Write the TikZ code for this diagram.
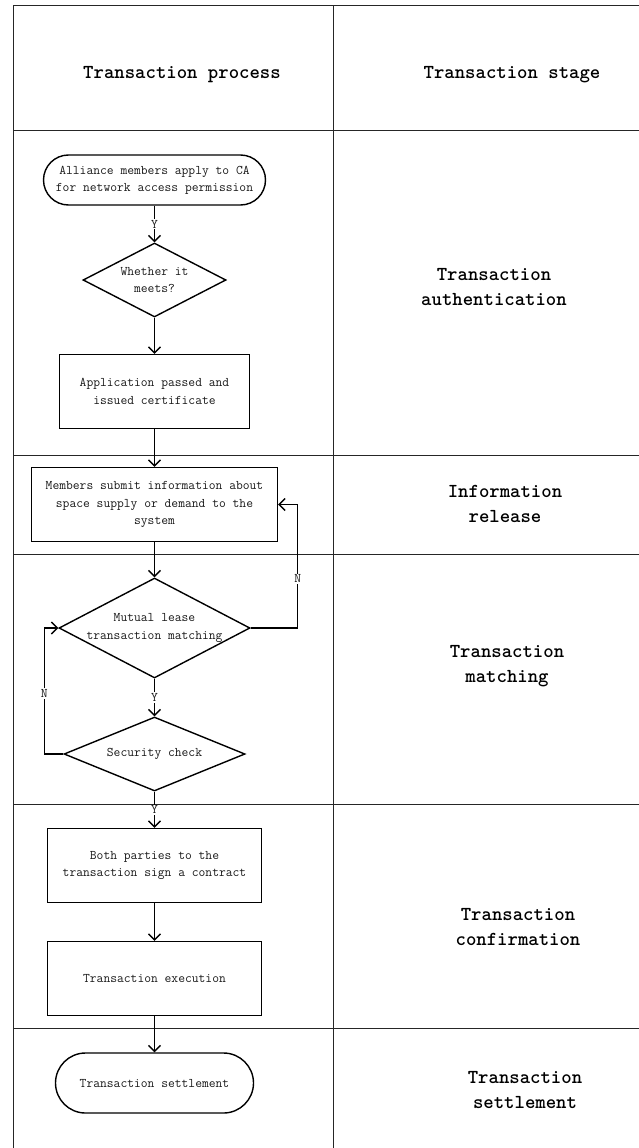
\documentclass[tikz,border=0pt]{standalone}
\usetikzlibrary{shapes.geometric,arrows.meta}
\begin{document}
\begin{tikzpicture}[x=1pt,y=-1pt,
  frame/.style={line width=1.4pt,black!85},
  body/.style={font=\ttfamily\fontsize{13.2}{17.3}\selectfont,text=black!90,align=center},
  head/.style={font=\ttfamily\bfseries\fontsize{19.8}{24.5}\selectfont,text=black,align=center,inner sep=0pt},
  boxnode/.style={draw,line width=1.4pt,rectangle,inner sep=0pt,body},
  term/.style={draw,line width=1.4pt,inner sep=0pt,body},
  dec/.style={draw,line width=1.4pt,diamond,inner sep=0pt},
  arr/.style={line width=1.4pt,-{Straight Barb[length=6pt,width=12pt]}},
  yn/.style={body,fill=white,inner sep=1pt}]
\useasboundingbox (0,0) rectangle (639,1148);
% frame
\draw[frame] (13.5,1148) -- (13.5,5.5) -- (639,5.5);
\draw[frame] (333.5,5.5) -- (333.5,1148);
\foreach \yy in {130.5,455.5,554.5,804.5,1028.5} \draw[frame] (13.5,\yy) -- (639,\yy);
% headers
\node[head] (h1) at (182,75) {Transaction process};
\node[head] (h2) at (512,75) {Transaction stage};
% stages
\node[head] (s1) at (494,287) {Transaction\\authentication};
\node[head] (s2) at (505,504) {Information\\release};
\node[head] (s3) at (507,666) {Transaction\\matching};
\node[head] (s4) at (518,927) {Transaction\\confirmation};
\node[head] (s5) at (525,1090) {Transaction\\settlement};
% flow nodes
\node[term,rounded corners=25pt,minimum width=222pt,minimum height=50pt] (t1) at (154.5,180) {Alliance members apply to CA\\for network access permission};
\node[dec,minimum width=143pt,minimum height=74pt,label={[body]center:Whether it\\meets?}] (d1) at (154.5,280) {};
\node[boxnode,minimum width=190pt,minimum height=74pt] (r1) at (154.5,391.5) {Application passed and\\issued certificate};
\node[boxnode,minimum width=246pt,minimum height=74pt] (r2) at (154.5,504.5) {Members submit information about\\space supply or demand to the\\system};
\node[dec,minimum width=191pt,minimum height=100pt,label={[body]center:Mutual lease\\transaction matching}] (d2) at (154.5,628) {};
\node[dec,minimum width=181pt,minimum height=74pt,label={[body]center:Security check}] (d3) at (154.5,754) {};
\node[boxnode,minimum width=214pt,minimum height=74pt] (r3) at (154.5,865.5) {Both parties to the\\transaction sign a contract};
\node[boxnode,minimum width=214pt,minimum height=74pt] (r4) at (154.5,978.5) {Transaction execution};
\node[term,rounded corners=30pt,minimum width=198pt,minimum height=60pt] (t2) at (154.5,1083) {Transaction settlement};
% connectors
\draw[arr] (t1) -- node[yn] {Y} (d1);
\draw[arr] (d1) -- (r1);
\draw[arr] (r1) -- (r2);
\draw[arr] (r2) -- (d2);
\draw[arr] (d2) -- node[yn] {Y} (d3);
\draw[arr] (d3) -- node[yn] {Y} (r3);
\draw[arr] (r3) -- (r4);
\draw[arr] (r4) -- (t2);
\draw[arr] (d2.east) -- ++(47,0) |- node[yn,pos=0.2] {N} (r2.east);
\draw[arr] (d3.west) -- ++(-19,0) |- node[yn,pos=0.24] {N} (d2.west);
\end{tikzpicture}
\end{document}
